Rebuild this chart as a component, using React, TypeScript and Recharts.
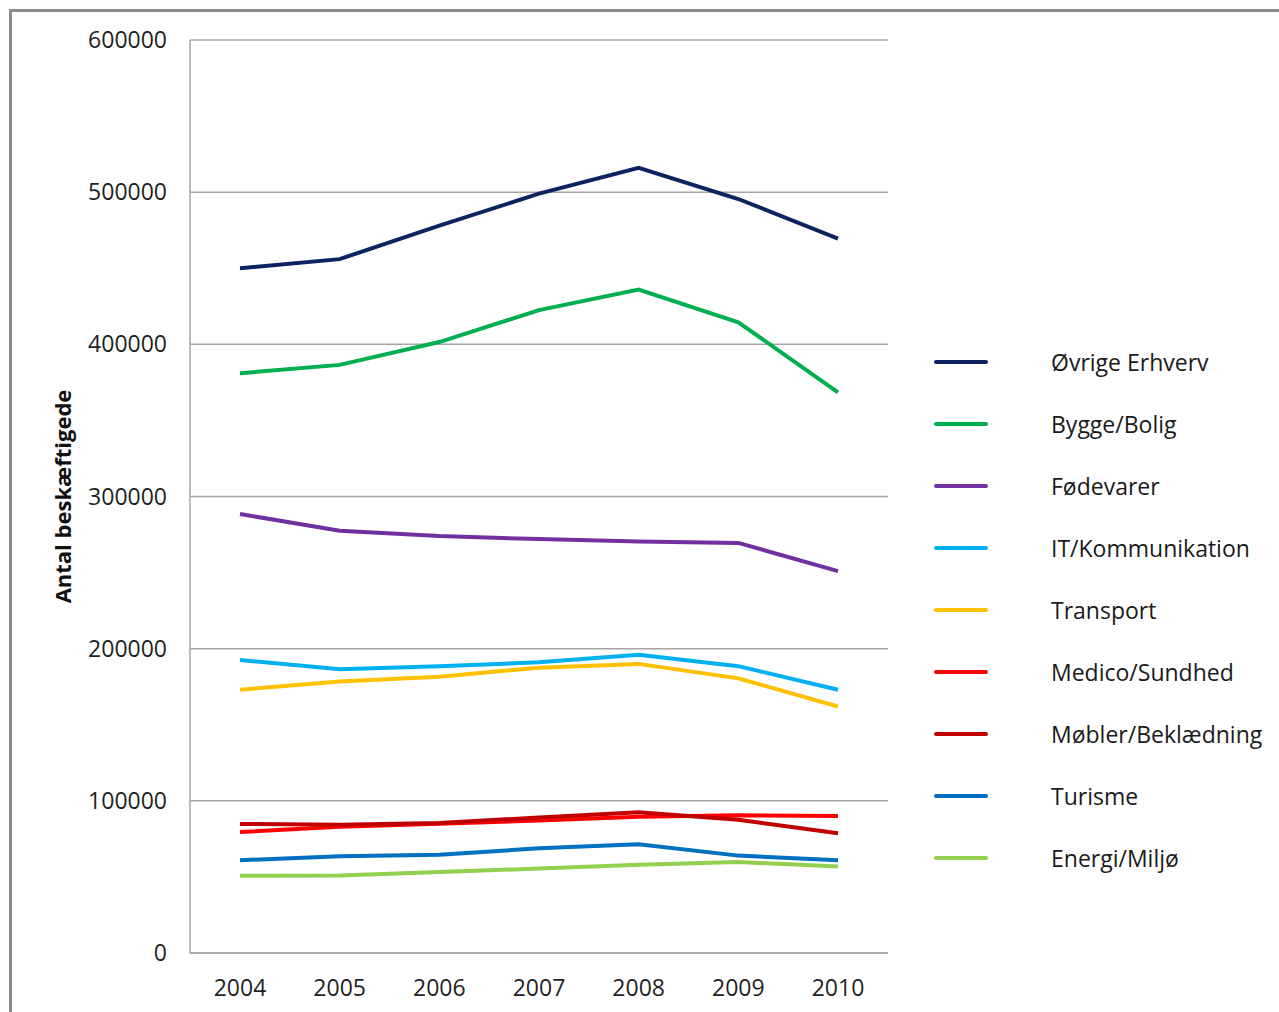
import { CartesianGrid, Legend, Line, LineChart, XAxis, YAxis } from "recharts";

// Antal beskæftigede pr. erhvervsområde, 2004-2010
const years = ["2004", "2005", "2006", "2007", "2008", "2009", "2010"];

const ovrigeErhverv = [450000, 456000, 478000, 499000, 516000, 495500, 469500];
const byggeBolig = [381000, 386500, 401500, 422500, 436000, 414500, 368500];
const foedevarer = [288500, 277500, 274000, 272000, 270500, 269500, 251000];
const itKommunikation = [192500, 186500, 188500, 191000, 196000, 188500, 173000];
const transport = [173000, 178500, 181500, 187500, 190000, 180500, 162000];
const medicoSundhed = [79500, 83000, 85000, 87000, 89500, 90500, 90000];
const moeblerBeklaedning = [84800, 84300, 85500, 89000, 92500, 87500, 78700];
const turisme = [61000, 63500, 64500, 68800, 71500, 64000, 61000];
const energiMiljoe = [50800, 50900, 53200, 55500, 58000, 59800, 56800];

const yTicks = [0, 100000, 200000, 300000, 400000, 500000, 600000];

const series = [
  { key: "ovrige", name: "Øvrige Erhverv", color: "#0b2460", values: ovrigeErhverv },
  { key: "bygge", name: "Bygge/Bolig", color: "#00b050", values: byggeBolig },
  { key: "fode", name: "Fødevarer", color: "#7030a0", values: foedevarer },
  { key: "it", name: "IT/Kommunikation", color: "#00b0f0", values: itKommunikation },
  { key: "transport", name: "Transport", color: "#ffc000", values: transport },
  { key: "medico", name: "Medico/Sundhed", color: "#ff0000", values: medicoSundhed },
  { key: "mobler", name: "Møbler/Beklædning", color: "#c00000", values: moeblerBeklaedning },
  { key: "turisme", name: "Turisme", color: "#0070c0", values: turisme },
  { key: "energi", name: "Energi/Miljø", color: "#92d050", values: energiMiljoe },
];

const data = years.map((year, i) => {
  const row: Record<string, string | number> = { year };
  series.forEach((s) => {
    row[s.key] = s.values[i];
  });
  return row;
});

const FONT = "'Open Sans', 'DejaVu Sans', sans-serif";
const TICK = { fontSize: 23, fill: "#1f1f1f", fontFamily: FONT };

function LegendBox() {
  return (
    <div style={{ fontFamily: FONT, fontSize: 23, color: "#1a1a1a" }}>
      {series.map((s) => (
        <div key={s.key} style={{ display: "flex", alignItems: "center", height: 62 }}>
          <div
            style={{
              width: 54,
              height: 4,
              borderRadius: 2,
              background: s.color,
              marginLeft: 4,
              marginRight: 63,
            }}
          />
          <span style={{ whiteSpace: "nowrap" }}>{s.name}</span>
        </div>
      ))}
    </div>
  );
}

function YLabel(props: any) {
  const vb = props.viewBox || { x: 0, y: 0, width: 0, height: 0 };
  const cx = 62;
  const cy = vb.y + vb.height / 2;
  return (
    <text
      x={cx}
      y={cy}
      transform={`rotate(-90 ${cx} ${cy})`}
      textAnchor="middle"
      dominantBaseline="central"
      fontFamily={FONT}
      fontSize={22}
      fontWeight={700}
      fill="#111"
    >
      Antal beskæftigede
    </text>
  );
}

export default function App() {
  return (
    <div
      style={{
        position: "absolute",
        left: 0,
        top: 0,
        width: 1279,
        height: 1012,
        overflow: "hidden",
        background: "#fff",
      }}
    >
      <div
        style={{
          position: "absolute",
          left: 9,
          top: 9,
          width: 1400,
          height: 1100,
          borderLeft: "3px solid #8c8c8c",
          borderTop: "3px solid #8c8c8c",
        }}
      />
      <div style={{ position: "absolute", left: 0, top: 0 }}>
        <LineChart
          width={1279}
          height={1012}
          data={data}
          margin={{ top: 40, right: 391, left: 0, bottom: 0 }}
        >
          <CartesianGrid vertical={false} stroke="#a6a6a6" strokeWidth={1.5} />
          <XAxis
            dataKey="year"
            tick={TICK}
            tickLine={false}
            axisLine={{ stroke: "#a6a6a6", strokeWidth: 1.5 }}
            padding={{ left: 50, right: 50 }}
            tickMargin={21}
            height={59}
            interval={0}
          />
          <YAxis
            domain={[0, 600000]}
            ticks={yTicks}
            tick={TICK}
            tickLine={false}
            axisLine={{ stroke: "#a6a6a6", strokeWidth: 1.5 }}
            tickMargin={17}
            width={190}
            interval={0}
            label={<YLabel />}
          />
          <Legend
            layout="vertical"
            align="center"
            verticalAlign="middle"
            content={() => <LegendBox />}
            wrapperStyle={{ left: 930, top: 331, width: 349, height: 560 }}
          />
          {series.map((s) => (
            <Line
              key={s.key}
              type="linear"
              dataKey={s.key}
              name={s.name}
              stroke={s.color}
              strokeWidth={4}
              dot={false}
              activeDot={false}
              isAnimationActive={false}
            />
          ))}
        </LineChart>
      </div>
    </div>
  );
}
